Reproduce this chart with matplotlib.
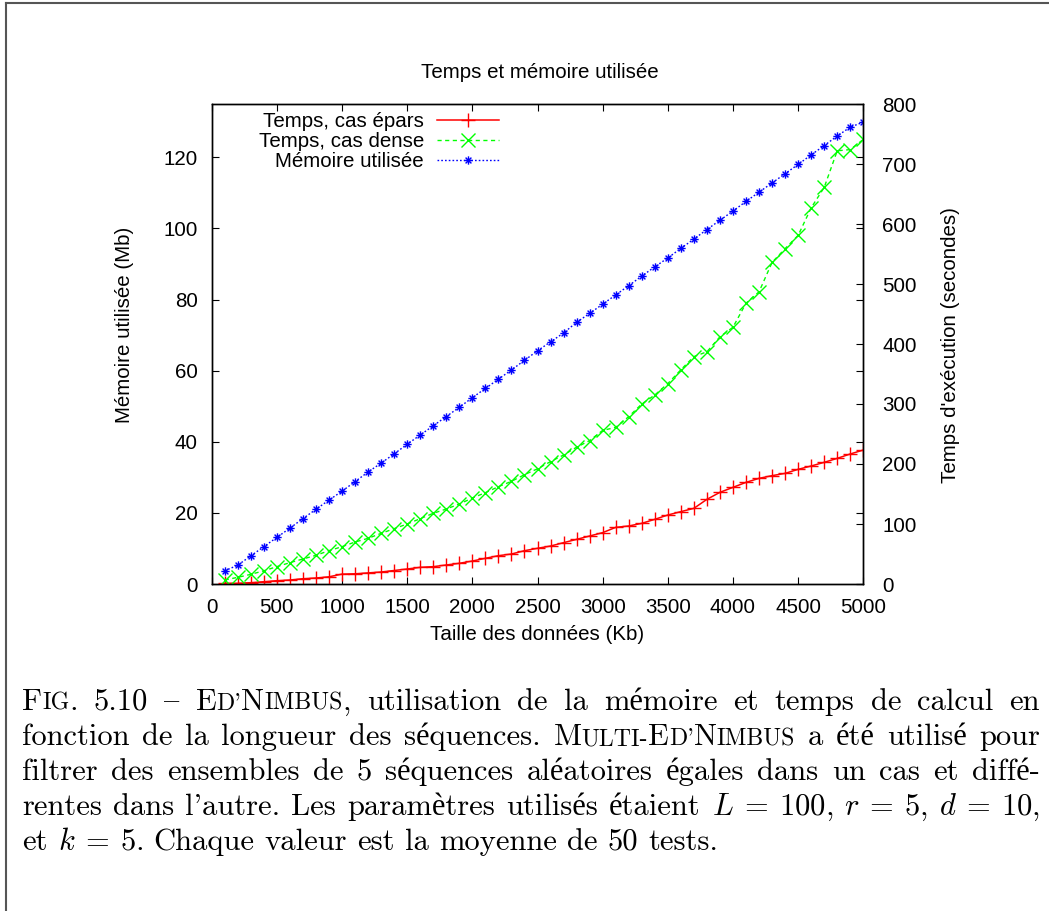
import numpy as np
import matplotlib
matplotlib.use('Agg')
import matplotlib.pyplot as plt
from matplotlib.path import Path
from matplotlib.lines import Line2D

plt.rcParams['font.family'] = ['Liberation Sans', 'DejaVu Sans']
plt.rcParams['mathtext.fontset'] = 'cm'

# taille des données (Kb)
taille = [100 * i for i in range(1, 51)]

# mémoire utilisée (Mb), axe de gauche
memoire = [3.7, 5.3, 7.9, 10.5, 13.1, 15.7, 18.4, 21.0, 23.6, 26.1,
           28.8, 31.5, 34.0, 36.6, 39.3, 41.9, 44.5, 47.1, 49.7, 52.4,
           55.0, 57.6, 60.2, 62.9, 65.6, 68.1, 70.6, 73.6, 76.1, 78.7,
           81.3, 83.9, 86.6, 89.2, 91.7, 94.4, 97.0, 99.7, 102.3, 104.9,
           107.6, 110.2, 112.8, 115.4, 118.0, 120.7, 123.3, 126.0, 128.5, 129.9]

# temps (secondes), axe de droite
temps_epars = [1.1, 1.1, 2.2, 3.8, 5.5, 6.7, 8.8, 10.0, 12.0, 16.5,
               17.0, 18.5, 20.0, 22.5, 25.0, 27.8, 28.9, 31.7, 34.5, 38.3,
               42.8, 47.2, 50.0, 55.5, 59.5, 63.3, 68.9, 74.4, 80.0, 85.6,
               94.4, 96.7, 101.1, 107.8, 115.0, 120.6, 126.1, 141.1, 152.8, 161.1,
               169.4, 176.1, 180.6, 184.4, 191.1, 196.7, 202.8, 209.4, 216.7, 223.3]

temps_dense = [6.7, 11.1, 16.1, 22.0, 28.9, 35.6, 41.7, 47.8, 55.6, 62.2,
               70.0, 76.1, 84.4, 92.2, 100.0, 108.9, 117.8, 125.0, 133.3, 143.3,
               152.2, 162.2, 171.1, 182.2, 192.0, 204.0, 215.0, 228.0, 239.0, 256.0,
               261.0, 279.0, 300.0, 315.0, 334.0, 357.0, 379.0, 387.0, 412.0, 428.0,
               468.0, 487.0, 536.0, 559.0, 581.0, 627.0, 661.0, 722.0, 724.0, 741.0]

labels = ['Temps, cas épars', 'Temps, cas dense', 'Mémoire utilisée']

W, H = 1049, 911
FS = 14.8

fig = plt.figure(figsize=(W / 100, H / 100), dpi=100)
ax = fig.add_axes([211.7 / W, 1 - 584 / H, (863.3 - 211.7) / W, (584 - 104) / H])
ax2 = ax.twinx()

# marqueur étoile façon gnuplot (+ et x superposés)
etoile = Path([(-1, 0), (1, 0), (0, -1), (0, 1),
               (-0.7, -0.7), (0.7, 0.7), (-0.7, 0.7), (0.7, -0.7)],
              [Path.MOVETO, Path.LINETO] * 4)

l3, = ax.plot(taille, memoire, color='#0000ff', lw=1.0, linestyle=(0, (1.2, 1.5)),
              marker=etoile, ms=6, mew=1.0, mfc='none', mec='#0000ff')
l1, = ax2.plot(taille, temps_epars, color='#ff0000', lw=1.1, linestyle='-',
               marker='+', ms=9.5, mew=1.0)
l2, = ax2.plot(taille, temps_dense, color='#00ff00', lw=1.0, linestyle=(0, (3, 2.5)),
               marker='x', ms=9.5, mew=1.0)

ax.set_xlim(0, 5000)
ax.set_ylim(0, 135)
ax2.set_ylim(0, 800)
ax.set_xticks(np.arange(0, 5001, 500))
ax.set_yticks(np.arange(0, 121, 20))
ax2.set_yticks(np.arange(0, 801, 100))

ax.tick_params(direction='in', length=5, width=0.8, labelsize=FS, pad=10,
               top=True, right=True, labelright=False)
ax2.tick_params(direction='in', length=5, width=0.8, labelsize=FS, pad=13.5)
for a in (ax, ax2):
    for s in a.spines.values():
        s.set_linewidth(1.0)

fig.text(540 / W, 1 - 73 / H, 'Temps et mémoire utilisée', fontsize=FS, ha='center', va='center')
fig.text(537 / W, 1 - 634 / H, 'Taille des données (Kb)', fontsize=FS, ha='center', va='center')
fig.text(125 / W, 1 - 325 / H, 'Mémoire utilisée (Mb)', fontsize=FS, ha='center', va='center',
         rotation=90)
fig.text(950 / W, 1 - 345 / H, "Temps d'exécution (secondes)", fontsize=FS, ha='center',
         va='center', rotation=90)

ax2.legend([l1, l2, l3], labels, loc='upper right', bbox_to_anchor=(499 / W, 1 - 112 / H),
           bbox_transform=fig.transFigure, frameon=False, markerfirst=False,
           handlelength=3.0, handletextpad=0.65, labelspacing=0.05, borderpad=0,
           borderaxespad=0, fontsize=FS)

# cadre de la page
fig.add_artist(Line2D([6 / W, 6 / W], [0, 1 - 3 / H], transform=fig.transFigure,
                      color='#555555', lw=1.5))
fig.add_artist(Line2D([6 / W, 1], [1 - 3 / H, 1 - 3 / H], transform=fig.transFigure,
                      color='#555555', lw=1.5))

# légende du document, justifiée, petites capitales entre < >
CAP_FONT = ['cmr10', 'Liberation Serif']
CFS = 22
SCFS = CFS * 0.78
lignes = [
    "F<ig>. 5.10 { E<d'>N<imbus>, utilisation de la mémoire et temps de calcul en",
    "fonction de la longueur des séquences. M<ulti->E<d'>N<imbus> a été utilisé pour",
    "filtrer des ensembles de 5 séquences aléatoires égales dans un cas et diffé-",
    r"rentes dans l'autre. Les paramètres utilisés étaient $L\:=\:100$, $r\:=\:5$, $d\:=\:10$,",
    r"et $k\:=\:5$. Chaque valeur est la moyenne de 50 tests.",
]
bases = [710, 745, 780, 815, 850]
x_gauche, x_droite = 22, 1040

renderer = fig.canvas.get_renderer()


def morceaux(mot):
    out = []
    petit = False
    buf = ''
    for c in mot:
        if c in '<>':
            if buf:
                out.append((buf.upper() if petit else buf, SCFS if petit else CFS))
            buf = ''
            petit = (c == '<')
        else:
            buf += c
    if buf:
        out.append((buf.upper() if petit else buf, SCFS if petit else CFS))
    return out


def largeur(txt, taille_f):
    t = fig.text(0, 0, txt, fontsize=taille_f, family=CAP_FONT)
    w = t.get_window_extent(renderer).width
    t.remove()
    return w


espace = largeur('a a', CFS) - largeur('aa', CFS)


def mots_de(ligne):
    # les espaces à l'intérieur des formules ne sont pas des séparateurs
    res, buf, dans_math = [], '', False
    for c in ligne:
        if c == '$':
            dans_math = not dans_math
        if c == ' ' and not dans_math:
            res.append(buf)
            buf = ''
        else:
            buf += c
    res.append(buf)
    return res


for i, (ligne, yb) in enumerate(zip(lignes, bases)):
    mots = []
    for m in mots_de(ligne):
        pcs = [(t, s, largeur(t, s)) for t, s in morceaux(m)]
        mots.append(pcs)
    total = sum(w for pcs in mots for _, _, w in pcs)
    if i < len(lignes) - 1:
        gap = (x_droite - x_gauche - total) / (len(mots) - 1)
    else:
        gap = espace
    x = x_gauche
    for pcs in mots:
        for t, s, w in pcs:
            fig.text(x / W, 1 - yb / H, t, fontsize=s, family=CAP_FONT, ha='left', va='baseline')
            x += w
        x += gap

fig.savefig('out.png', dpi=100)
